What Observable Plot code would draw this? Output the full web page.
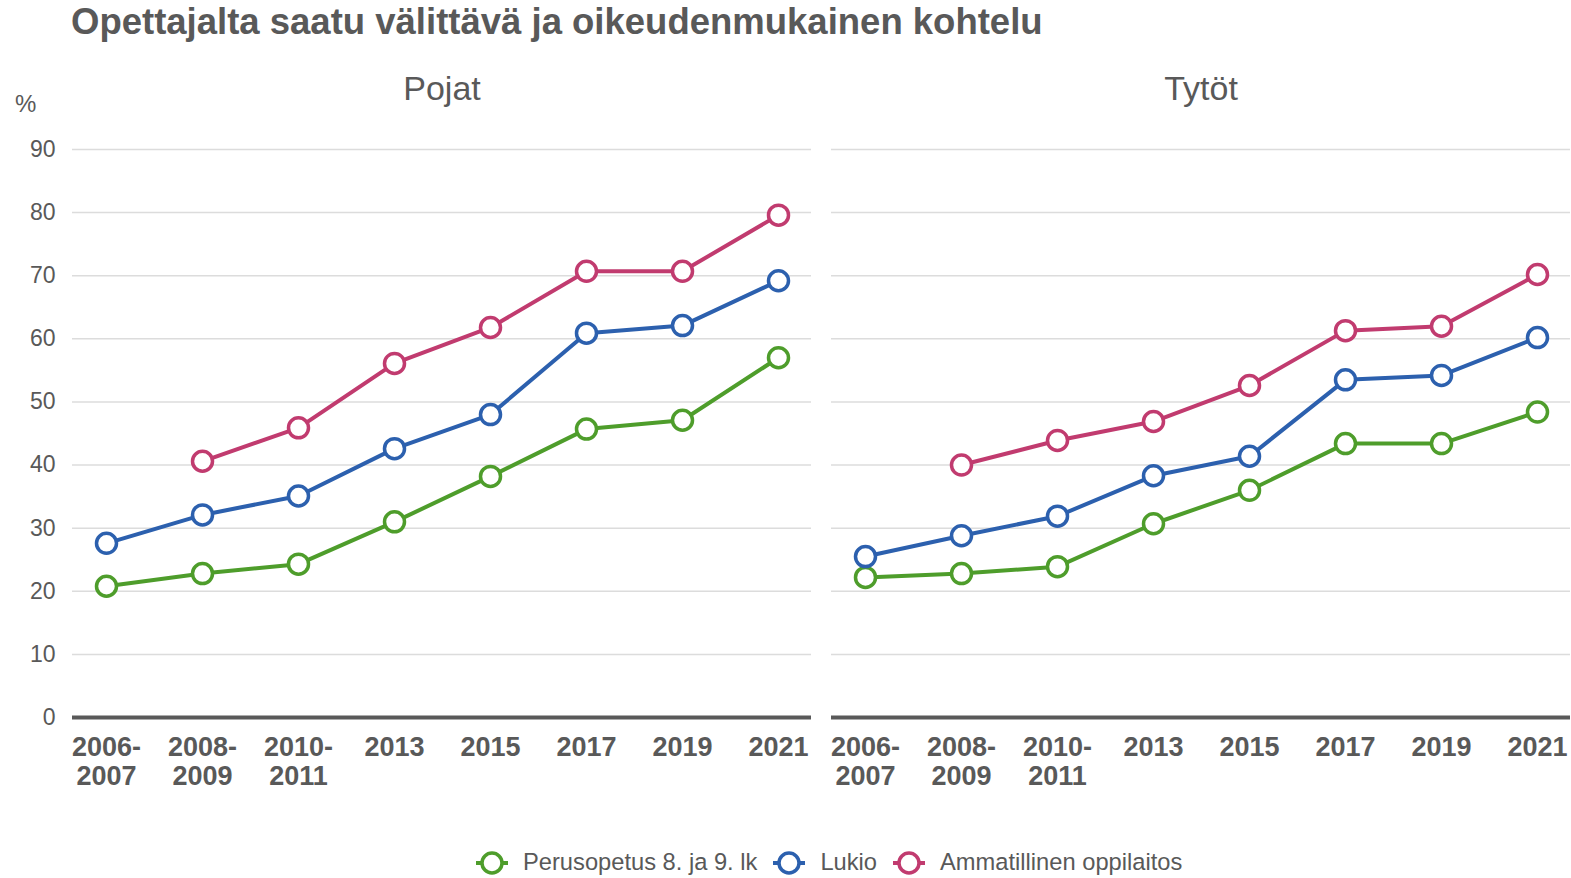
<!DOCTYPE html>
<html>
<head>
<meta charset="utf-8">
<script src="https://cdn.jsdelivr.net/npm/d3@7"></script>
<script src="https://cdn.jsdelivr.net/npm/@observablehq/plot@0.6"></script>
<style>
  html, body { margin: 0; padding: 0; background: #ffffff; }
  #wrap { position: relative; width: 1571px; height: 878px; font-family: "Liberation Sans", Arial, sans-serif; color: #595959; overflow: hidden; }
  #title { position: absolute; left: 71px; top: 4px; font-size: 36.5px; font-weight: bold; line-height: 1; white-space: nowrap; }
  #pct { position: absolute; left: 15px; top: 92px; font-size: 24px; line-height: 1; }
  #chart { position: absolute; left: 0; top: 50px; }
  #legend { position: absolute; left: 476px; top: 850px; display: flex; align-items: center; font-size: 23.7px; line-height: 1; white-space: nowrap; }
  .item { display: flex; align-items: center; margin-right: 16px; }
  .item svg { margin-right: 15px; }
</style>
</head>
<body>
<div id="wrap">
  <div id="title">Opettajalta saatu välittävä ja oikeudenmukainen kohtelu</div>
  <div id="pct">%</div>
  <div id="chart"></div>
  <div id="legend"></div>
</div>
<script>
// ---- data ----
const periods = ["2006-2007", "2008-2009", "2010-2011", "2013", "2015", "2017", "2019", "2021"];
const periodLabels = ["2006-\n2007", "2008-\n2009", "2010-\n2011", "2013", "2015", "2017", "2019", "2021"];
const groups = ["Pojat", "Tytöt"];
const seriesNames = ["Perusopetus 8. ja 9. lk", "Lukio", "Ammatillinen oppilaitos"];
const seriesColors = ["#4e9d2b", "#2c60ae", "#c13b6f"];
const yTicks = [0, 10, 20, 30, 40, 50, 60, 70, 80, 90];

// values per period (null = no data)
const pojatPerusopetus = [20.8, 22.8, 24.3, 31.0, 38.2, 45.7, 47.1, 57.0];
const pojatLukio       = [27.6, 32.1, 35.1, 42.6, 48.0, 60.9, 62.1, 69.2];
const pojatAmmatill    = [null, 40.6, 45.9, 56.1, 61.8, 70.7, 70.7, 79.6];
const tytotPerusopetus = [22.2, 22.8, 23.9, 30.7, 36.0, 43.4, 43.4, 48.4];
const tytotLukio       = [25.5, 28.8, 31.9, 38.3, 41.4, 53.5, 54.2, 60.2];
const tytotAmmatill    = [null, 40.0, 43.9, 46.9, 52.6, 61.3, 62.0, 70.2];

// ---- build table ----
const table = [];
const addSeries = (group, name, vals) => vals.forEach((v, i) => {
  if (v != null) table.push({group, series: name, period: periods[i], value: v});
});
addSeries("Pojat", seriesNames[0], pojatPerusopetus);
addSeries("Pojat", seriesNames[1], pojatLukio);
addSeries("Pojat", seriesNames[2], pojatAmmatill);
addSeries("Tytöt", seriesNames[0], tytotPerusopetus);
addSeries("Tytöt", seriesNames[1], tytotLukio);
addSeries("Tytöt", seriesNames[2], tytotAmmatill);

const labelOf = new Map(periods.map((p, i) => [p, periodLabels[i]]));
const textColor = "#595959";

const chart = Plot.plot({
  width: 1571,
  height: 750,
  marginLeft: 72,
  marginRight: 1,
  marginTop: 99,
  marginBottom: 83,
  style: {fontFamily: "'Liberation Sans', Arial, sans-serif", background: "transparent"},
  fx: {domain: groups, paddingInner: 0.0264, paddingOuter: 0, axis: null, label: null},
  x: {domain: periods, type: "point", padding: 0.336, label: null},
  y: {domain: [0, 90], label: null},
  color: {domain: seriesNames, range: seriesColors},
  marks: [
    Plot.gridY(yTicks, {stroke: "#dcdcdc", strokeOpacity: 1, strokeWidth: 1.5}),
    Plot.ruleY([0], {stroke: textColor, strokeWidth: 4}),
    Plot.axisY({ticks: yTicks, tickSize: 0, tickPadding: 17, fontSize: 23, fill: textColor, label: null}),
    Plot.axisX({tickSize: 0, tickPadding: 18, fontSize: 27, fontWeight: "bold", fill: textColor, lineHeight: 1.08, label: null, tickFormat: d => labelOf.get(d)}),
    Plot.line(table, {fx: "group", x: "period", y: "value", z: "series", stroke: "series", strokeWidth: 4}),
    Plot.dot(table, {fx: "group", x: "period", y: "value", stroke: "series", fill: "white", r: 10, strokeWidth: 3.5}),
    Plot.text(groups, {fx: d => d, text: d => d, frameAnchor: "top", dy: -74, fontSize: 34, fill: textColor})
  ]
});
document.getElementById("chart").appendChild(chart);

// ---- legend ----
const legend = document.getElementById("legend");
seriesNames.forEach((name, i) => {
  const item = document.createElement("div");
  item.className = "item";
  item.innerHTML = `<svg width="32" height="26" viewBox="0 0 32 26"><line x1="0" y1="13" x2="32" y2="13" stroke="${seriesColors[i]}" stroke-width="4"/><circle cx="16" cy="13" r="10" fill="white" stroke="${seriesColors[i]}" stroke-width="3.5"/></svg><span>${name}</span>`;
  legend.appendChild(item);
});
</script>
</body>
</html>
